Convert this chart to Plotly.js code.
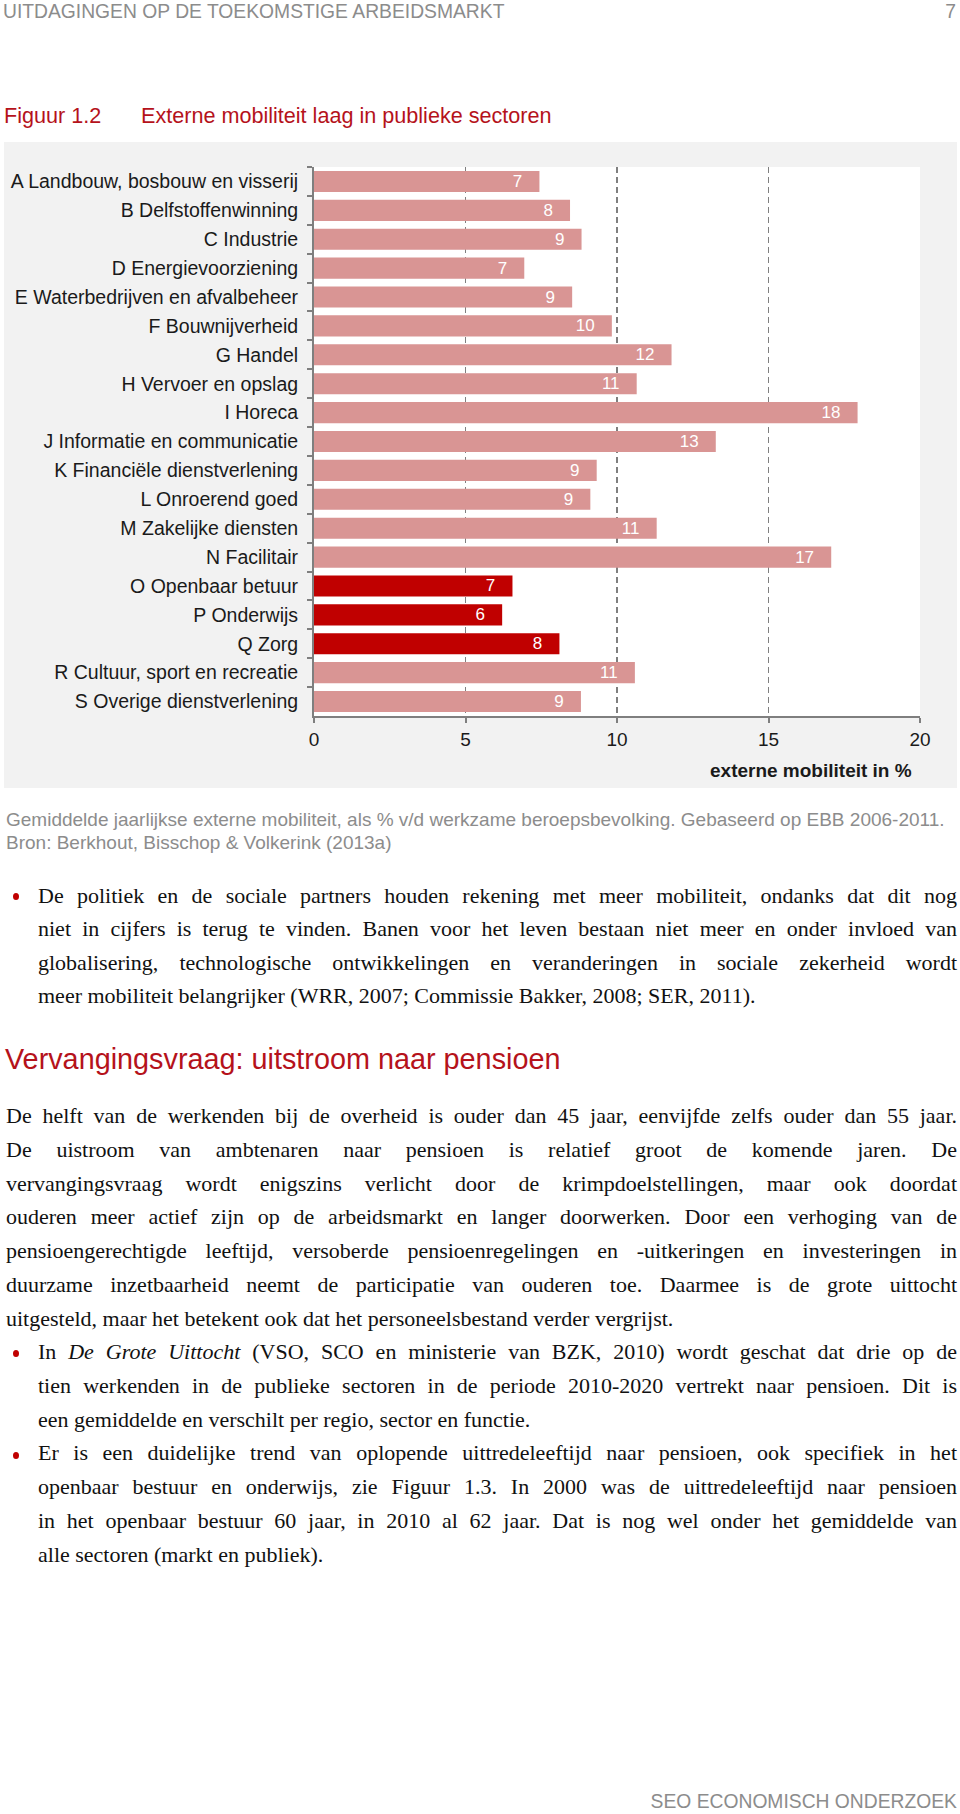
<!DOCTYPE html>
<html>
<head>
<meta charset="utf-8">
<script src="https://cdn.plot.ly/plotly-3.0.1.min.js"></script>
<style>
  body { margin: 0; width: 960px; height: 1814px; position: relative; background: #fff; font-family: "Liberation Sans", Arial, sans-serif; }
  .abs { position: absolute; white-space: nowrap; }
  .head { font-size: 19.3px; line-height: 22px; color: #8c8c8c; }
  .red { color: #b5121b; }
  .cap { font-size: 19px; line-height: 23px; color: #8c8c8c; }
  .body { position: absolute; font-family: "Liberation Serif", "Times New Roman", serif; font-size: 22px; color: #111; }
  .body div { text-align: justify; text-align-last: justify; }
  .body div.last { text-align: left; text-align-last: left; }
  .dot { position: absolute; width: 6px; height: 7px; border-radius: 50%; background: #c00000; }
  #chart { position: absolute; left: 4px; top: 142px; width: 953px; height: 646px; }
</style>
</head>
<body>
<div class="abs head" style="left:3px; top:1px;">UITDAGINGEN OP DE TOEKOMSTIGE ARBEIDSMARKT</div>
<div class="abs head" style="right:4px; top:1px;">7</div>

<div class="abs red" style="left:4px; top:104px; font-size:21.6px; line-height:24px;">Figuur 1.2</div>
<div class="abs red" style="left:141px; top:104px; font-size:21.6px; line-height:24px;">Externe mobiliteit laag in publieke sectoren</div>

<div id="chart"></div>

<div class="abs cap" style="left:6px; top:808px;">Gemiddelde jaarlijkse externe mobiliteit, als % v/d werkzame beroepsbevolking. Gebaseerd op EBB 2006-2011.</div>
<div class="abs cap" style="left:6px; top:831px;">Bron: Berkhout, Bisschop &amp; Volkerink (2013a)</div>

<div class="dot" style="left:13px; top:893px;"></div>
<div class="body" style="left:38px; top:879px; width:919px; line-height:33.4px;">
  <div>De politiek en de sociale partners houden rekening met meer mobiliteit, ondanks dat dit nog</div>
  <div>niet in cijfers is terug te vinden. Banen voor het leven bestaan niet meer en onder invloed van</div>
  <div>globalisering, technologische ontwikkelingen en veranderingen in sociale zekerheid wordt</div>
  <div class="last">meer mobiliteit belangrijker (WRR, 2007; Commissie Bakker, 2008; SER, 2011).</div>
</div>

<div class="abs red" style="left:5px; top:1043px; font-size:28.8px; line-height:32px;">Vervangingsvraag: uitstroom naar pensioen</div>

<div class="body" style="left:6px; top:1099px; width:951px; line-height:33.8px;">
  <div>De helft van de werkenden bij de overheid is ouder dan 45 jaar, eenvijfde zelfs ouder dan 55 jaar.</div>
  <div>De uistroom van ambtenaren naar pensioen is relatief groot de komende jaren. De</div>
  <div>vervangingsvraag wordt enigszins verlicht door de krimpdoelstellingen, maar ook doordat</div>
  <div>ouderen meer actief zijn op de arbeidsmarkt en langer doorwerken. Door een verhoging van de</div>
  <div>pensioengerechtigde leeftijd, versoberde pensioenregelingen en -uitkeringen en investeringen in</div>
  <div>duurzame inzetbaarheid neemt de participatie van ouderen toe. Daarmee is de grote uittocht</div>
  <div class="last">uitgesteld, maar het betekent ook dat het personeelsbestand verder vergrijst.</div>
</div>

<div class="dot" style="left:13px; top:1350px;"></div>
<div class="dot" style="left:13px; top:1452px;"></div>
<div class="body" style="left:38px; top:1335px; width:919px; line-height:33.8px;">
  <div>In <i>De Grote Uittocht</i> (VSO, SCO en ministerie van BZK, 2010) wordt geschat dat drie op de</div>
  <div>tien werkenden in de publieke sectoren in de periode 2010-2020 vertrekt naar pensioen. Dit is</div>
  <div class="last">een gemiddelde en verschilt per regio, sector en functie.</div>
  <div>Er is een duidelijke trend van oplopende uittredeleeftijd naar pensioen, ook specifiek in het</div>
  <div>openbaar bestuur en onderwijs, zie Figuur 1.3. In 2000 was de uittredeleeftijd naar pensioen</div>
  <div>in het openbaar bestuur 60 jaar, in 2010 al 62 jaar. Dat is nog wel onder het gemiddelde van</div>
  <div class="last">alle sectoren (markt en publiek).</div>
</div>

<div class="abs head" style="right:3px; top:1791px;">SEO ECONOMISCH ONDERZOEK</div>

<script>
// sectoren (SBI) en gemiddelde jaarlijkse externe mobiliteit in %
const sectors = ["A Landbouw, bosbouw en visserij", "B Delfstoffenwinning", "C Industrie",
  "D Energievoorziening", "E Waterbedrijven en afvalbeheer", "F Bouwnijverheid", "G Handel",
  "H Vervoer en opslag", "I Horeca", "J Informatie en communicatie", "K Financiële dienstverlening",
  "L Onroerend goed", "M Zakelijke diensten", "N Facilitair", "O Openbaar betuur", "P Onderwijs",
  "Q Zorg", "R Cultuur, sport en recreatie", "S Overige dienstverlening"];
const mobility = [7.44, 8.45, 8.83, 6.94, 8.52, 9.83, 11.8, 10.65, 17.94, 13.26,
  9.33, 9.12, 11.31, 17.07, 6.55, 6.21, 8.1, 10.59, 8.81];
const publicSectors = ["O Openbaar betuur", "P Onderwijs", "Q Zorg"];
const xTicks = [0, 5, 10, 15, 20];

const colors = sectors.map(s => publicSectors.includes(s) ? "#c00000" : "#d99594");

var data = [{
  type: "bar",
  orientation: "h",
  y: sectors,
  x: mobility,
  marker: {color: colors, line: {width: 0}},
  texttemplate: "%{x:.0f}\u00a0\u00a0\u00a0",
  textposition: "inside",
  insidetextanchor: "end",
  textangle: 0,
  constraintext: "none",
  insidetextfont: {color: "#ffffff", size: 17, family: "Liberation Sans Narrow, Arial Narrow, Liberation Sans, Arial"},
  hoverinfo: "skip"
}];

const axisGrey = "#7f7f7f";
var layout = {
  width: 953, height: 646,
  margin: {l: 310, r: 37, t: 25, b: 72},
  paper_bgcolor: "#f2f2f2",
  plot_bgcolor: "#ffffff",
  bargap: 0.27,
  showlegend: false,
  font: {family: "Liberation Sans, Arial, sans-serif", size: 19, color: "#1a1a1a"},
  xaxis: {
    range: [0, 20], tickvals: xTicks, ticktext: xTicks.map(String),
    showgrid: true, gridcolor: axisGrey, gridwidth: 1.5, griddash: "6px,4px",
    showline: true, linecolor: axisGrey, linewidth: 2,
    ticks: "outside", ticklen: 5, tickwidth: 2, tickcolor: axisGrey,
    zeroline: false, fixedrange: true
  },
  yaxis: {
    type: "category", autorange: "reversed",
    showline: true, linecolor: axisGrey, linewidth: 2,
    ticks: "outside", tickson: "boundaries", ticklen: 5, tickwidth: 2, tickcolor: axisGrey,
    ticklabelstandoff: 10, tickfont: {size: 19.5},
    showgrid: false, zeroline: false, fixedrange: true
  },
  annotations: [{
    text: "<b>externe mobiliteit in %</b>",
    xref: "paper", yref: "paper", x: 1, y: 0,
    xanchor: "right", yanchor: "middle", xshift: -6, yshift: -54,
    showarrow: false, font: {size: 19, color: "#1a1a1a"}
  }]
};

Plotly.newPlot("chart", data, layout, {displayModeBar: false, staticPlot: true});
</script>
</body>
</html>
